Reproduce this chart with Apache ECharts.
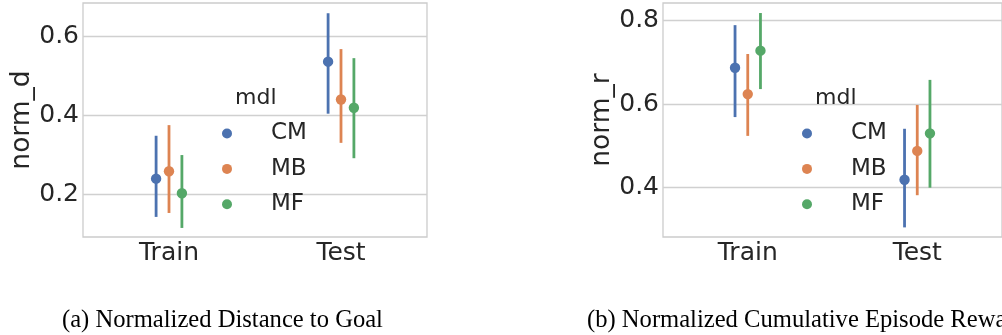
<!DOCTYPE html>
<html>
<head>
<meta charset="utf-8">
<script src="https://cdn.jsdelivr.net/npm/echarts@6/dist/echarts.min.js"></script>
<style>
html,body{margin:0;padding:0;background:#fff;}
#chart{width:1002px;height:335px;}
</style>
</head>
<body>
<div id="chart"></div>
<script>
// ---- data ----
const categories = ['Train', 'Test'];
const models = ['CM', 'MB', 'MF'];
const yTicksD = [0.2, 0.4, 0.6];
const yTicksR = [0.4, 0.6, 0.8];

// (a) norm_d : point estimates and CI [low, high] per category
const normD_CM_mean = [0.239, 0.536];
const normD_CM_ci = [[0.142, 0.348], [0.404, 0.659]];
const normD_MB_mean = [0.258, 0.440];
const normD_MB_ci = [[0.152, 0.375], [0.330, 0.568]];
const normD_MF_mean = [0.202, 0.419];
const normD_MF_ci = [[0.114, 0.299], [0.291, 0.545]];

// (b) norm_r
const normR_CM_mean = [0.687, 0.419];
const normR_CM_ci = [[0.569, 0.789], [0.305, 0.541]];
const normR_MB_mean = [0.624, 0.488];
const normR_MB_ci = [[0.524, 0.720], [0.382, 0.598]];
const normR_MF_mean = [0.728, 0.530];
const normR_MF_ci = [[0.636, 0.818], [0.400, 0.658]];

const colors = {CM: '#4C72B0', MB: '#DD8452', MF: '#55A868'};
const dodge = {CM: -0.075, MB: 0, MF: 0.075};
const textColor = '#262626';
const font = 'DejaVu Sans';

function rows(mean, ci) {
  return categories.map((c, i) => [i, mean[i], ci[i][0], ci[i][1]]);
}
const dataD = {CM: rows(normD_CM_mean, normD_CM_ci), MB: rows(normD_MB_mean, normD_MB_ci), MF: rows(normD_MF_mean, normD_MF_ci)};
const dataR = {CM: rows(normR_CM_mean, normR_CM_ci), MB: rows(normR_MB_mean, normR_MB_ci), MF: rows(normR_MF_mean, normR_MF_ci)};

function makeRender(model) {
  return function (params, api) {
    const cat = api.value(0);
    const band = api.size([1, 0])[0];
    const off = dodge[model] * band;
    const pm = api.coord([cat, api.value(1)]);
    const pl = api.coord([cat, api.value(2)]);
    const ph = api.coord([cat, api.value(3)]);
    const x = pm[0] + off;
    return {
      type: 'group',
      children: [
        {type: 'line', shape: {x1: x, y1: pl[1], x2: x, y2: ph[1]}, style: {stroke: colors[model], lineWidth: 2.8}},
        {type: 'circle', shape: {cx: x, cy: pm[1], r: 5.2}, style: {fill: colors[model]}}
      ]
    };
  };
}

function makeSeries(dataset, axisIdx, ticks) {
  const list = models.map(m => ({
    type: 'custom',
    name: m,
    xAxisIndex: axisIdx,
    yAxisIndex: axisIdx,
    z: 3,
    itemStyle: {color: colors[m]},
    renderItem: makeRender(m),
    encode: {x: 0, y: [1, 2, 3]},
    data: dataset[m],
    clip: false
  }));
  // horizontal grid lines at the tick values
  list.push({
    type: 'line', name: 'grid' + axisIdx, xAxisIndex: axisIdx, yAxisIndex: axisIdx,
    data: [], silent: true, z: 1,
    markLine: {
      silent: true, symbol: ['none', 'none'], z: 1, animation: false,
      label: {show: false},
      lineStyle: {color: '#d0d0d0', width: 1.3, type: 'solid'},
      data: ticks.map(t => ({yAxis: t}))
    }
  });
  return list;
}

function yAxis(idx, min, max, name, gap, ticks) {
  return {
    type: 'value', gridIndex: idx, min: min, max: max,
    name: name, nameLocation: 'middle', nameGap: gap,
    nameTextStyle: {fontSize: 26.5, color: textColor, fontFamily: font},
    axisLine: {show: false}, axisTick: {show: false},
    axisLabel: {fontSize: 25, color: textColor, fontFamily: font, margin: 4,
      customValues: ticks,
      formatter: v => v.toFixed(1)},
    splitLine: {show: false}
  };
}
function xAxis(idx) {
  return {
    type: 'category', gridIndex: idx, data: categories, boundaryGap: true,
    axisLine: {show: false}, axisTick: {show: false},
    axisLabel: {fontSize: 25, color: textColor, fontFamily: font, margin: 4},
    splitLine: {show: false}
  };
}
function legend(left) {
  return {
    data: models, orient: 'vertical', left: left, top: 122, padding: 0,
    icon: 'circle', itemWidth: 10, itemHeight: 10, itemGap: 12.4,
    textStyle: {fontSize: 23, color: textColor, fontFamily: font, lineHeight: 23, padding: [0, 0, 0, 34]},
    selectedMode: false
  };
}

const chart = echarts.init(document.getElementById('chart'), null, {renderer: 'canvas'});
chart.setOption({
  animation: false,
  backgroundColor: '#ffffff',
  grid: [
    {left: 83, top: 3, width: 344, height: 234, show: true, borderColor: '#cccccc', borderWidth: 1.3, containLabel: false},
    {left: 663, top: 3, width: 345, height: 234, show: true, borderColor: '#cccccc', borderWidth: 1.3, containLabel: false}
  ],
  xAxis: [xAxis(0), xAxis(1)],
  yAxis: [yAxis(0, 0.091, 0.685, 'norm_d', 43, yTicksD), yAxis(1, 0.282, 0.842, 'norm_r', 47, yTicksR)],
  legend: [legend(222), legend(802)],
  title: [
    {text: 'mdl', left: 235, top: 87, padding: 0, textStyle: {fontSize: 22, fontWeight: 'normal', color: textColor, fontFamily: font}},
    {text: 'mdl', left: 815, top: 87, padding: 0, textStyle: {fontSize: 22, fontWeight: 'normal', color: textColor, fontFamily: font}},
    {text: '(a) Normalized Distance to Goal', left: 62, top: 308, padding: 0, textStyle: {fontSize: 24.6, fontWeight: 'normal', color: '#000', fontFamily: 'Liberation Serif'}},
    {text: '(b) Normalized Cumulative Episode Reward', left: 587, top: 308, padding: 0, textStyle: {fontSize: 24.6, fontWeight: 'normal', color: '#000', fontFamily: 'Liberation Serif'}}
  ],
  series: [].concat(makeSeries(dataD, 0, yTicksD), makeSeries(dataR, 1, yTicksR))
});
</script>
</body>
</html>
